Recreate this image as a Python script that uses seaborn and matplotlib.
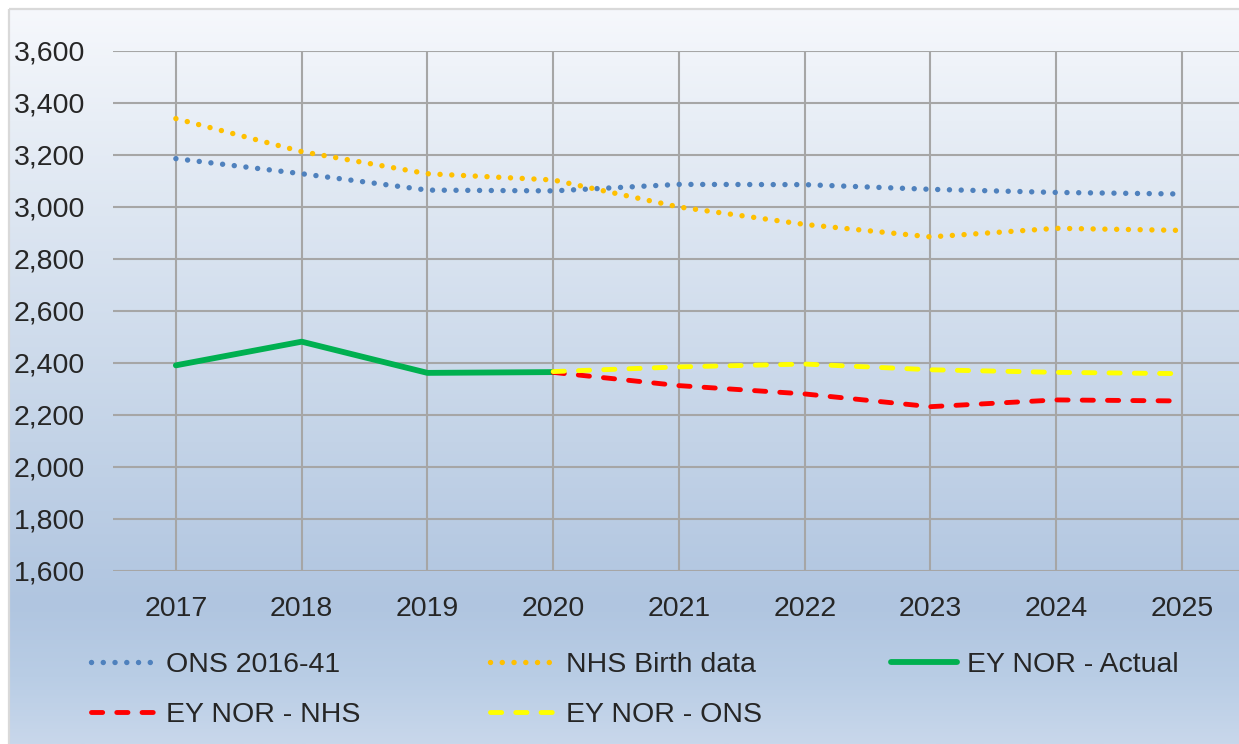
import numpy as np
import pandas as pd
import matplotlib
matplotlib.use("Agg")
import matplotlib.pyplot as plt
from matplotlib.colors import LinearSegmentedColormap
from matplotlib.patches import Rectangle
from matplotlib.ticker import FuncFormatter
import seaborn as sns

# Values
years = [2017, 2018, 2019, 2020, 2021, 2022, 2023, 2024, 2025]
ons_2016_41 = [3186, 3128, 3065, 3062, 3087, 3086, 3068, 3056, 3050]
nhs_birth = [3340, 3213, 3128, 3104, 3000, 2933, 2885, 2918, 2910]
ey_actual = [2391, 2482, 2362, 2365]
ey_nhs = [2364, 2313, 2281, 2232, 2258, 2254]
ey_ons = [2367, 2385, 2396, 2374, 2364, 2359]

actual_years = years[:4]
forecast_years = years[3:]
y_ticks = [1600, 1800, 2000, 2200, 2400, 2600, 2800, 3000, 3200, 3400, 3600]

sns.set_style("white")
plt.rcParams["font.family"] = ["Liberation Sans", "DejaVu Sans"]

W, H = 1239, 744
fig = plt.figure(figsize=(W / 100, H / 100), dpi=100)

# gradient background with thin grey frame
bg = fig.add_axes([0, 0, 1, 1], zorder=-5)
bg.set_xlim(0, W)
bg.set_ylim(H, 0)
bg.axis("off")
grad = LinearSegmentedColormap.from_list(
    "bg",
    [(0.0, "#f6f8fc"), (0.15, "#e8eef6"), (0.59, "#c3d3e7"),
     (0.81, "#b0c5e0"), (0.91, "#b9cde5"), (1.0, "#c8d7eb")])
bg.imshow(np.linspace(0, 1, 256).reshape(-1, 1), cmap=grad, aspect="auto",
          extent=(9, W, H, 9), zorder=0)
bg.add_patch(Rectangle((9, 9), W, H, fill=False, edgecolor="#d9d9d9", lw=1.6, zorder=1))

left, right, top, bottom = 113, 1239, 51, 571
ax = fig.add_axes([left / W, 1 - bottom / H, (right - left) / W, (bottom - top) / H])
ax.set_facecolor("none")

dot = (0, (0.01, 2.16))
dash = (0, (2.3, 2.9))

sns.lineplot(x=years, y=ons_2016_41, ax=ax, color="#4f81bd", lw=3.9,
             linestyle=dot, dash_capstyle="round", label="ONS 2016-41")
sns.lineplot(x=years, y=nhs_birth, ax=ax, color="#ffc000", lw=3.9,
             linestyle=dot, dash_capstyle="round", label="NHS Birth data")
sns.lineplot(x=actual_years, y=ey_actual, ax=ax, color="#00b050", lw=4.2,
             solid_capstyle="round", label="EY NOR - Actual")
sns.lineplot(x=forecast_years, y=ey_nhs, ax=ax, color="#ff0000", lw=3.5,
             linestyle=dash, dash_capstyle="round", label="EY NOR - NHS")
sns.lineplot(x=forecast_years, y=ey_ons, ax=ax, color="#ffff00", lw=3.5,
             linestyle=dash, dash_capstyle="round", label="EY NOR - ONS")

ax.set_xlim(2016.5, 2025 + (right - 1182) / 125.75)
ax.set_ylim(1600, 3600)
ax.set_xticks(years)
ax.set_yticks(y_ticks)
ax.yaxis.set_major_formatter(FuncFormatter(lambda v, p: f"{int(v):,}"))
ax.grid(True, color="#a6a6a6", lw=1.5)
ax.set_axisbelow(True)
for s in ax.spines.values():
    s.set_visible(False)
ax.tick_params(axis="y", length=0, pad=20, labelsize=20.5)
ax.tick_params(axis="x", length=0, pad=18, labelsize=20.5)
ax.set_xlabel("")
ax.set_ylabel("")

handles, labels = ax.get_legend_handles_labels()
ax.get_legend().remove()
order = [0, 3, 1, 4, 2]
fig.legend([handles[i] for i in order], [labels[i] for i in order],
           loc="upper left", bbox_to_anchor=(91 / W, 1 - 652 / H),
           ncol=3, frameon=False, fontsize=20.5, handlelength=2.3,
           handletextpad=0.35, columnspacing=4.55, labelspacing=0.83,
           borderpad=0, borderaxespad=0)

fig.savefig("out.png", dpi=100)
